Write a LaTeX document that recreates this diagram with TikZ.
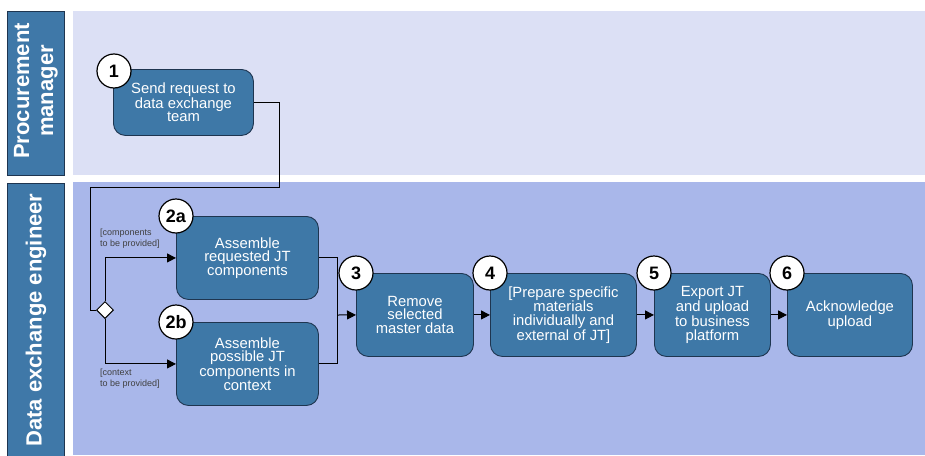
\documentclass[tikz,border=0pt]{standalone}
\usepackage{fontspec}
\setmainfont{Liberation Sans}
\usetikzlibrary{arrows.meta,shapes.geometric}
\definecolor{laneA}{HTML}{DCE0F5}
\definecolor{laneB}{HTML}{A9B7EA}
\definecolor{hdr}{HTML}{3F78A8}
\definecolor{boxfill}{HTML}{3E78A7}
\definecolor{boxline}{HTML}{1E3550}
\begin{document}
\begin{tikzpicture}[x=1pt,y=-1pt,
  lanehdr/.style={draw=boxline,line width=0.8pt,fill=hdr},
  task/.style={draw=boxline,line width=0.9pt,fill=boxfill,rounded corners=12pt,
    minimum width=#1,minimum height=83pt,align=center,inner sep=0pt,
    text=white,font=\fontsize{14.8}{13.7}\selectfont,anchor=north west},
  task/.default=142pt,
  num/.style={circle,draw=black,line width=1.2pt,fill=white,minimum size=34pt,inner sep=0pt,
    font=\fontsize{18}{18}\selectfont\bfseries},
  flow/.style={line width=1pt,draw=black},
  arr/.style={flow,-{Triangle[length=9pt,width=9pt]}},
  guard/.style={font=\fontsize{9}{11}\selectfont,text=black!75,align=left,anchor=north west,inner sep=0pt}
]
\useasboundingbox (0,0) rectangle (925,455);
\fill[white] (0,0) rectangle (925,455);

% swimlanes
\fill[laneA] (73,11) rectangle (925,175);
\fill[laneB] (73,182) rectangle (925,455);
\draw[lanehdr] (7,11) rectangle (64,175);
\draw[lanehdr] (7,183) rectangle (64,458);
\node[rotate=90,text=white,align=center,font=\fontsize{22}{24}\selectfont\bfseries] (lanePM) at (36,91) {Procurement\\manager};
\node[rotate=90,text=white,font=\fontsize{22}{24}\selectfont\bfseries] (laneDE) at (36,320) {Data exchange engineer};

% tasks
\node[task=140pt,minimum height=66pt] (t1) at (113,69) {Send request to\\data exchange\\team};
\node[task] (t2a) at (176,216) {Assemble\\requested JT\\components};
\node[task] (t2b) at (176,322) {Assemble\\possible JT\\components in\\context};
\node[task=117pt] (t3) at (356,273) {Remove\\selected\\master data};
\node[task=146pt] (t4) at (490,273) {[Prepare specific\\materials\\individually and\\external of JT]};
\node[task=116pt] (t5) at (654,273) {Export JT\\and upload\\to business\\platform};
\node[task=125pt] (t6) at (787,273) {Acknowledge\\upload};

% step numbers
\node[num] (n1) at ([shift={(1pt,-2pt)}]t1.north west) {1};
\node[num] (n2a) at (t2a.north west) {2a};
\node[num] (n2b) at (t2b.north west) {2b};
\node[num] (n3) at (t3.north west) {3};
\node[num] (n4) at (t4.north west) {4};
\node[num] (n5) at (t5.north west) {5};
\node[num] (n6) at (t6.north west) {6};

% decision
\node[diamond,draw=black,line width=1pt,fill=white,minimum size=17pt,inner sep=0pt] (dec) at (105,310) {};
\coordinate (join) at (337,315);

% connectors
\draw[flow] (t1.east |- 0,102) -- (279,102) -- (279,187) -- (90,187) -- (90,310) -- (dec.west);
\draw[arr] (dec.north) |- (t2a.west);
\draw[arr] (dec.south) |- (t2b.west);
\draw[flow] (t2a.east) -| (join);
\draw[flow] (t2b.east) -| (join);
\draw[arr] (join) -- (t3.west);
\draw[arr] (t3) -- (t4);
\draw[arr] (t4) -- (t5);
\draw[arr] (t5) -- (t6);

% guards
\node[guard] (g1) at (100,229) {[components\\to be provided]};
\node[guard] (g2) at (100,369) {[context\\to be provided]};
\end{tikzpicture}
\end{document}
